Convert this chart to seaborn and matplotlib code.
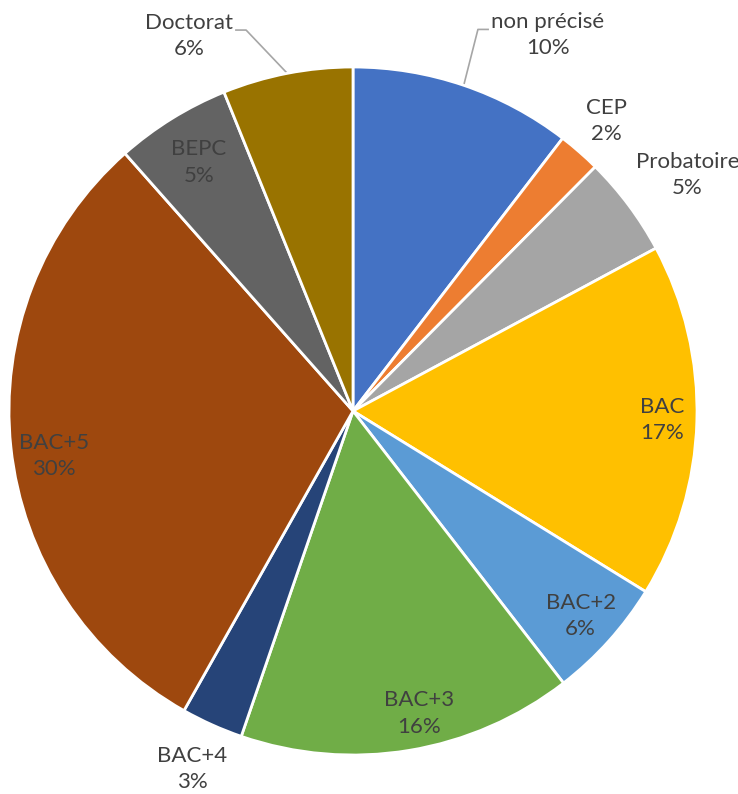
import matplotlib
matplotlib.use("Agg")
import matplotlib.pyplot as plt
import seaborn as sns
import numpy as np

sns.set_theme(style="white")
plt.rcParams['font.family'] = ['Lato', 'DejaVu Sans']

# Data (clockwise from top)
categories = ["non précisé", "CEP", "Probatoire", "BAC", "BAC+2", "BAC+3",
              "BAC+4", "BAC+5", "BEPC", "Doctorat"]
values = [10.4, 2.0, 4.7, 16.6, 5.7, 15.7, 2.9, 30.2, 5.4, 6.1]
colors = ["#4472C4", "#ED7D31", "#A5A5A5", "#FFC000", "#5B9BD5", "#70AD47",
          "#264478", "#9E480E", "#636363", "#997300"]

# label placement styling: (radius, angle offset in degrees, leader line)
label_style = {
    "non précisé": (1.23, -8.6, True),
    "CEP": (1.12, 0.0, False),
    "Probatoire": (1.19, -1.5, False),
    "BAC": (0.90, 0.0, False),
    "BAC+2": (0.89, 0.0, False),
    "BAC+3": (0.90, 3.0, False),
    "BAC+4": (1.14, 0.0, False),
    "BAC+5": (0.88, 2.5, False),
    "BEPC": (0.85, 0.0, False),
    "Doctorat": (1.19, 12.6, True),
}

W, H = 738, 794
fig = plt.figure(figsize=(W / 100, H / 100), dpi=100)
ax = fig.add_axes([0, 0, 1, 1])

R_px = 344.0
cx, cy = 353.0, 411.0

wedges, _ = ax.pie(values, colors=colors, startangle=90, counterclock=False,
                   radius=1.0, center=(0, 0),
                   wedgeprops=dict(edgecolor="white", linewidth=2.0))

ax.set_xlim(-cx / R_px, (W - cx) / R_px)
ax.set_ylim(-(H - cy) / R_px, cy / R_px)
ax.set_aspect('auto')
ax.axis('off')

total = sum(values)
text_color = "#404040"
texts = []
for w, cat, v in zip(wedges, categories, values):
    r, off, leader = label_style[cat]
    mid = np.deg2rad((w.theta1 + w.theta2) / 2 + off)
    x, y = r * np.cos(mid), r * np.sin(mid)
    pct = int(round(100 * v / total))
    t = ax.text(x, y, f"{cat}\n{pct}%", ha="center", va="center",
                fontsize=16, color=text_color, linespacing=1.4)
    texts.append((t, w, leader))

fig.canvas.draw()
renderer = fig.canvas.get_renderer()
inv = ax.transData.inverted()
for t, w, leader in texts:
    if not leader:
        continue
    bb = t.get_window_extent(renderer)
    (x0, y0), (x1, y1) = inv.transform([[bb.x0, bb.y0], [bb.x1, bb.y1]])
    midang = np.deg2rad((w.theta1 + w.theta2) / 2)
    ex, ey = np.cos(midang), np.sin(midang)
    ly = (y0 + y1) / 2 + 0.017
    tx, ty = t.get_position()
    if ex > tx:
        sx = x1 + 0.006
        kx = sx + 0.032
    else:
        sx = x0 - 0.006
        kx = sx - 0.032
    ax.plot([sx, kx, ex], [ly, ly, ey], color="#A6A6A6", linewidth=1.2,
            solid_capstyle="butt", zorder=0)

fig.savefig("out.png", dpi=100, facecolor="white")
